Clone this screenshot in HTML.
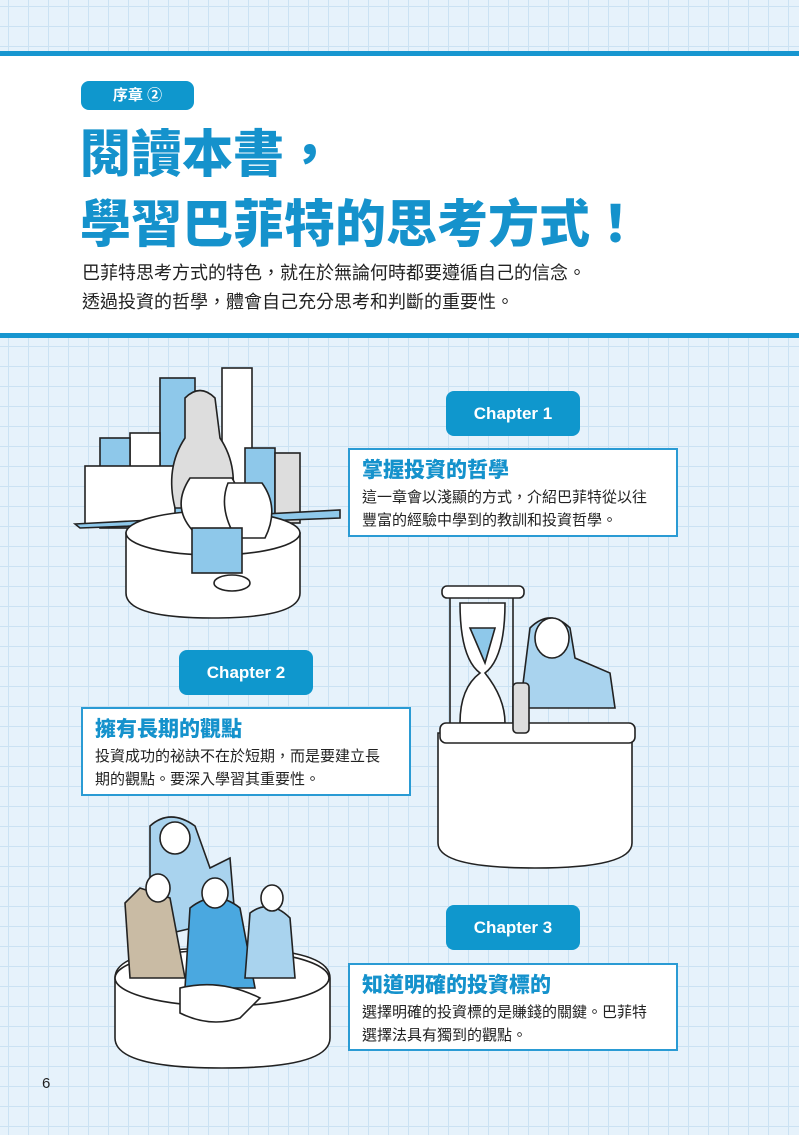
<!DOCTYPE html>
<html><head><meta charset="utf-8"><style>
body{margin:0;width:799px;height:1135px;position:relative;overflow:hidden;font-family:"Liberation Sans","Noto Sans CJK TC",sans-serif;
background-color:#e6f2fb;background-image:linear-gradient(#cbe2f3 1px,transparent 1px),linear-gradient(90deg,#cbe2f3 1px,transparent 1px);background-size:20px 20px;background-position:8px 6px;}
.abs{position:absolute}
.band{left:0;width:799px;background:#1796d0}
.pill{background:#0f97cd;color:#fff;border-radius:8px;text-align:center;font-weight:bold}
.box{background:#fff;border:2px solid #2a9bd4;box-sizing:border-box;padding:8px 12px}
.box h3{margin:0;color:#1592cc;font-size:21px;line-height:26px;font-family:"Liberation Sans","Noto Sans CJK TC",sans-serif;font-weight:900}
.box p{margin:2px 0 0;font-size:15px;line-height:23px;color:#222}
</style></head><body>
<div class="abs band" style="top:51px;height:5px"></div>
<div class="abs" style="left:0;top:56px;width:799px;height:277px;background:#fff"></div>
<div class="abs band" style="top:333px;height:5px"></div>
<div class="abs pill" style="left:81px;top:81px;width:113px;height:29px;line-height:29px;font-size:15px">序章 ②</div>
<div class="abs" style="left:80px;top:115px;color:#1592cc;font-size:51px;line-height:70px;font-weight:900;font-family:'Noto Sans CJK TC',sans-serif">閱讀本書，<br>學習巴菲特的思考方式！</div>
<div class="abs" style="left:82px;top:258px;font-size:18px;line-height:29px;color:#222;font-family:'Noto Sans CJK TC',sans-serif">巴菲特思考方式的特色，就在於無論何時都要遵循自己的信念。<br>透過投資的哲學，體會自己充分思考和判斷的重要性。</div>

<svg class="abs" style="left:0;top:338px" width="799" height="797" stroke="#222" stroke-width="1.6" fill="#fff">
<!-- scene 1 -->
<rect x="222" y="30" width="30" height="140" fill="#fff"/>
<rect x="160" y="40" width="35" height="140" fill="#8ec8ea"/>
<rect x="130" y="95" width="30" height="100" fill="#fff"/>
<rect x="100" y="100" width="30" height="90" fill="#8ec8ea"/>
<rect x="245" y="110" width="30" height="80" fill="#8ec8ea"/>
<rect x="275" y="115" width="25" height="70" fill="#ddd"/>
<rect x="85" y="128" width="90" height="60" fill="#fff"/>
<path d="M75 186 L340 172 L340 180 L80 190 Z" fill="#8ec8ea"/>
<path d="M126 195 L300 195 L300 255 Q300 280 212 280 Q126 280 126 255 Z"/>
<ellipse cx="213" cy="195" rx="87" ry="22"/>
<path d="M185 60 Q200 45 215 60 L220 100 Q240 130 230 170 L175 170 Q165 130 185 100 Z" fill="#ddd"/>
<path d="M190 140 Q170 170 195 195 L235 195 Q250 170 232 140 Z" fill="#fff"/>
<path d="M228 145 Q218 170 236 200 L265 200 Q280 170 262 145 Z" fill="#fff"/>
<rect x="192" y="190" width="50" height="45" fill="#8ec8ea"/>
<ellipse cx="232" cy="245" rx="18" ry="8"/>
<!-- scene 2 -->
<line x1="450" y1="255" x2="450" y2="395"/><line x1="513" y1="255" x2="513" y2="395"/>
<rect x="442" y="248" width="82" height="12" rx="5"/>
<path d="M460 265 L505 265 Q505 320 485 335 Q505 360 505 385 L460 385 Q460 350 480 335 Q460 320 460 265 Z"/>
<path d="M470 290 L495 290 L485 325 Z" fill="#8ec8ea"/>
<path d="M530 290 Q550 270 570 290 L575 320 L610 335 L615 370 L520 370 Z" fill="#a9d3ee"/>
<ellipse cx="552" cy="300" rx="17" ry="20" fill="#fff"/>
<path d="M438 395 L632 395 L632 505 Q632 530 535 530 Q438 530 438 505 Z"/>
<rect x="440" y="385" width="195" height="20" rx="6"/>
<rect x="513" y="345" width="16" height="50" rx="4" fill="#ddd"/>
<!-- scene 3 -->
<path d="M115 640 Q115 610 222 610 Q330 610 330 640 L330 700 Q330 730 222 730 Q115 730 115 700 Z"/>
<ellipse cx="222" cy="640" rx="107" ry="28"/>
<path d="M150 488 Q170 470 195 488 L210 530 L230 520 L235 580 L150 600 Z" fill="#a9d3ee"/>
<path d="M125 565 L140 550 L170 560 L185 640 L130 640 Z" fill="#c9bba4"/>
<path d="M190 570 Q215 550 240 570 L255 650 L185 650 Z" fill="#4aa8e0"/>
<path d="M250 575 Q270 560 290 580 L295 640 L245 640 Z" fill="#a9d3ee"/>
<path d="M180 650 Q220 640 260 660 L240 680 Q210 690 180 675 Z" fill="#fff"/>
<ellipse cx="175" cy="500" rx="15" ry="16" fill="#fff"/>
<ellipse cx="158" cy="550" rx="12" ry="14" fill="#fff"/>
<ellipse cx="215" cy="555" rx="13" ry="15" fill="#fff"/>
<ellipse cx="272" cy="560" rx="11" ry="13" fill="#fff"/>
</svg>

<div class="abs pill" style="left:446px;top:391px;width:134px;height:45px;line-height:45px;font-size:17px">Chapter 1</div>
<div class="abs box" style="left:348px;top:448px;width:330px;height:89px"><h3>掌握投資的哲學</h3><p>這一章會以淺顯的方式，介紹巴菲特從以往<br>豐富的經驗中學到的教訓和投資哲學。</p></div>
<div class="abs pill" style="left:179px;top:650px;width:134px;height:45px;line-height:45px;font-size:17px">Chapter 2</div>
<div class="abs box" style="left:81px;top:707px;width:330px;height:89px"><h3>擁有長期的觀點</h3><p>投資成功的祕訣不在於短期，而是要建立長<br>期的觀點。要深入學習其重要性。</p></div>
<div class="abs pill" style="left:446px;top:905px;width:134px;height:45px;line-height:45px;font-size:17px">Chapter 3</div>
<div class="abs box" style="left:348px;top:963px;width:330px;height:88px"><h3>知道明確的投資標的</h3><p>選擇明確的投資標的是賺錢的關鍵。巴菲特<br>選擇法具有獨到的觀點。</p></div>
<div class="abs" style="left:42px;top:1075px;font-size:15px;color:#222">6</div>
</body></html>
